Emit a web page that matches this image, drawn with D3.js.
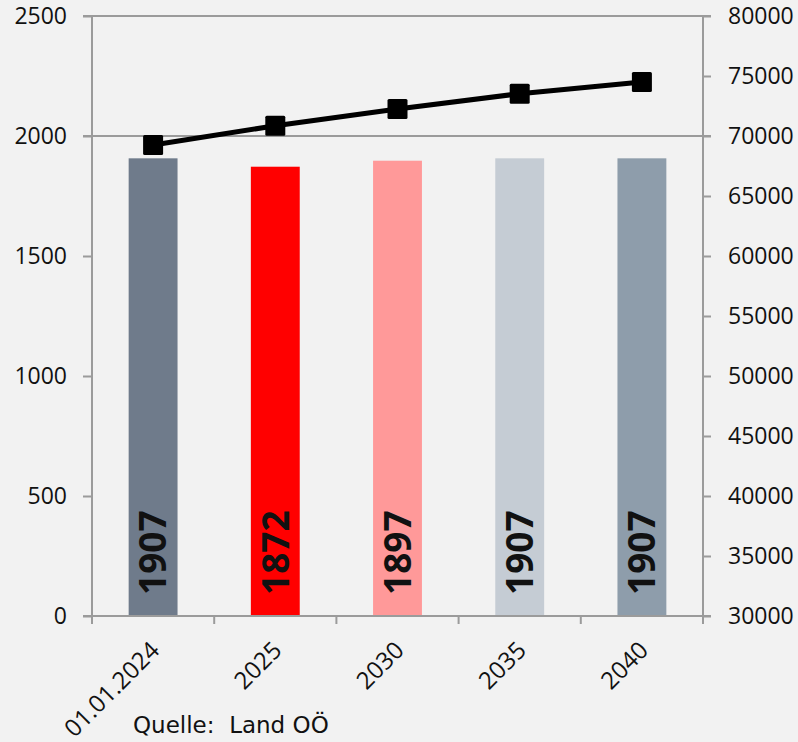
<!DOCTYPE html>
<html>
<head>
<meta charset="utf-8">
<script src="https://cdn.jsdelivr.net/npm/d3@7"></script>
<style>
  body { margin: 0; background: #f2f2f2; }
  svg { display: block; }
</style>
</head>
<body>
<svg width="798" height="742"></svg>
<script>
// data
var years = ["01.01.2024", "2025", "2030", "2035", "2040"];
var barValues = [1907, 1872, 1897, 1907, 1907];
var barColors = ["#6f7b8b", "#ff0000", "#ff9999", "#c5ccd4", "#8e9dab"];
var lineValues = [69250, 70850, 72250, 73530, 74500];
var leftTicks = [0, 500, 1000, 1500, 2000, 2500];
var rightTicks = [30000, 35000, 40000, 45000, 50000, 55000, 60000, 65000, 70000, 75000, 80000];
var gridValues = [2000, 2500];

var svg = d3.select("svg");
var plotLeft = 92, plotRight = 703, plotTop = 16, plotBottom = 616;
var font = "'Open Sans', sans-serif";
var axisColor = "#9b9b9b";

var x = d3.scaleBand().domain(years).range([plotLeft, plotRight]).paddingInner(0).paddingOuter(0);
var y = d3.scaleLinear().domain([0, 2500]).range([plotBottom, plotTop]);
var y2 = d3.scaleLinear().domain([30000, 80000]).range([plotBottom, plotTop]);

// background
svg.append("rect").attr("width", 798).attr("height", 742).attr("fill", "#f2f2f2");

// gridlines
svg.append("g").selectAll("line")
  .data(gridValues)
  .enter().append("line")
  .attr("x1", plotLeft - 9).attr("x2", plotRight + 8)
  .attr("y1", function (d) { return y(d); })
  .attr("y2", function (d) { return y(d); })
  .attr("stroke", axisColor).attr("stroke-width", 2);

// bars
var bw = x.bandwidth() * 0.4;
svg.append("g").selectAll("rect")
  .data(barValues)
  .enter().append("rect")
  .attr("x", function (d, i) { return x(years[i]) + x.bandwidth() / 2 - bw / 2; })
  .attr("y", function (d) { return y(d); })
  .attr("width", bw)
  .attr("height", function (d) { return plotBottom - y(d); })
  .attr("fill", function (d, i) { return barColors[i]; });

// bar labels
svg.append("g").selectAll("text")
  .data(barValues)
  .enter().append("text")
  .attr("transform", function (d, i) {
    return "translate(" + (x(years[i]) + x.bandwidth() / 2) + "," + (plotBottom - 21) + ") rotate(-90)";
  })
  .attr("dy", "0.36em")
  .attr("font-family", font)
  .attr("font-weight", "bold")
  .attr("font-size", "37px")
  .attr("fill", "#111")
  .text(function (d) { return d; });

// left axis
var gl = svg.append("g").attr("transform", "translate(" + plotLeft + ",0)")
  .call(d3.axisLeft(y).tickValues(leftTicks).tickSize(9).tickPadding(16).tickFormat(d3.format("d")));
// right axis
var gr = svg.append("g").attr("transform", "translate(" + plotRight + ",0)")
  .call(d3.axisRight(y2).tickValues(rightTicks).tickSize(8).tickPadding(17).tickFormat(d3.format("d")));
// bottom axis
var gb = svg.append("g").attr("transform", "translate(0," + plotBottom + ")")
  .call(d3.axisBottom(x).tickSize(0).tickFormat(""));

[gl, gr, gb].forEach(function (g) {
  g.select(".domain").attr("stroke", axisColor).attr("stroke-width", 2);
  g.selectAll(".tick line").attr("stroke", axisColor).attr("stroke-width", 2);
  g.selectAll("text").attr("font-family", font).attr("font-size", "23px").attr("fill", "#111");
});
gl.select(".domain").attr("d", "M0," + plotTop + "V" + plotBottom);
gr.select(".domain").attr("d", "M0," + plotTop + "V" + plotBottom);
gb.select(".domain").attr("d", "M" + (plotLeft - 9) + ",0H" + (plotRight + 8));

// x ticks at band edges
var edges = years.map(function (d) { return x(d); }).concat([plotRight]);
svg.append("g").selectAll("line")
  .data(edges)
  .enter().append("line")
  .attr("x1", function (d) { return d; }).attr("x2", function (d) { return d; })
  .attr("y1", plotBottom).attr("y2", plotBottom + 8)
  .attr("stroke", axisColor).attr("stroke-width", 2);

// x labels
svg.append("g").selectAll("text")
  .data(years)
  .enter().append("text")
  .attr("transform", function (d) {
    return "translate(" + (x(d) + x.bandwidth() / 2 - 4) + "," + (plotBottom + 24) + ") rotate(-45)";
  })
  .attr("text-anchor", "end")
  .attr("dy", "0.7em")
  .attr("font-family", font)
  .attr("font-size", "24px")
  .attr("fill", "#111")
  .text(function (d) { return d; });

// line
var line = d3.line()
  .x(function (d, i) { return x(years[i]) + x.bandwidth() / 2; })
  .y(function (d) { return y2(d); });
svg.append("path")
  .datum(lineValues)
  .attr("d", line)
  .attr("fill", "none")
  .attr("stroke", "#000")
  .attr("stroke-width", 5);

svg.append("g").selectAll("rect")
  .data(lineValues)
  .enter().append("rect")
  .attr("x", function (d, i) { return x(years[i]) + x.bandwidth() / 2 - 10; })
  .attr("y", function (d) { return y2(d) - 10; })
  .attr("width", 20).attr("height", 20)
  .attr("rx", 1.5)
  .attr("fill", "#000");

// source
svg.append("text")
  .attr("x", 133).attr("y", 733)
  .attr("font-family", "'DejaVu Sans', sans-serif")
  .attr("font-size", "23px")
  .attr("fill", "#111")
  .style("white-space", "pre")
  .text("Quelle:  Land OÖ");
</script>
</body>
</html>
